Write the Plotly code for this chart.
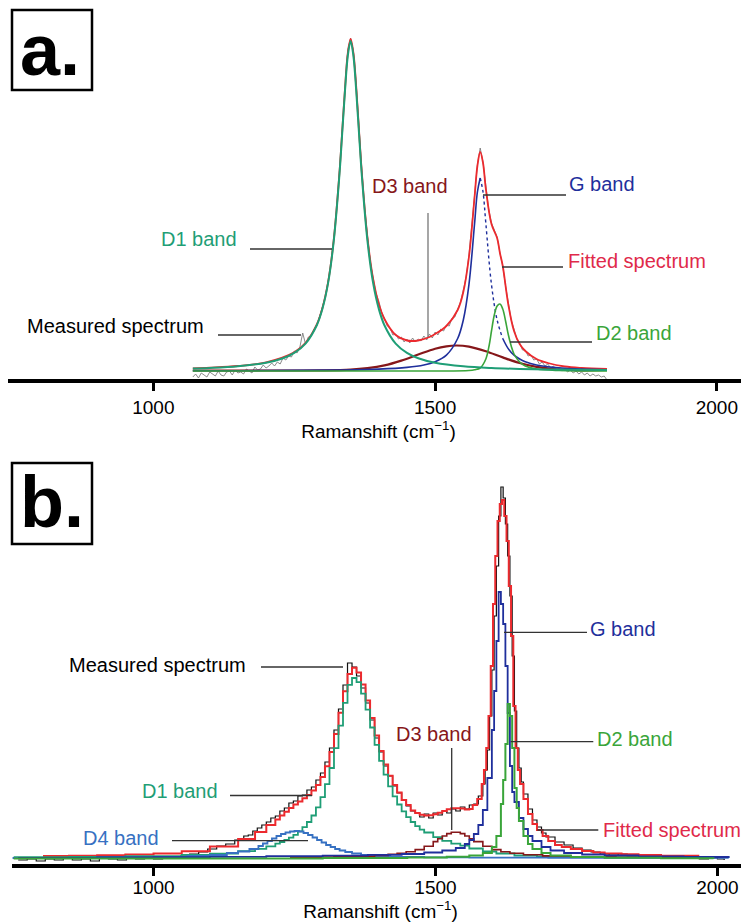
import plotly.graph_objs as go

# the page puts the plot 8 px in from the top-left corner
OFF = 8
W, H = 749 - OFF, 924 - OFF
FONT = "Liberation Sans, Arial, sans-serif"

# ---------------- panel a: smooth band fit ----------------
A_MEAS_X = list(range(1070, 1806, 5))
A_MEAS_Y = [
    4, 7, 3, 8, 6, 4, 9, 7, 5, 10,
    6, 5, 9, 10, 6, 11, 8, 9, 7, 12,
    10, 8, 14, 11, 12, 16, 13, 15, 18, 15,
    19, 17, 23, 21, 25, 24, 30, 28, 34, 48,
    37, 44, 45, 52, 55, 64, 73, 84, 99, 116,
    141, 170, 208, 250, 294, 331, 343, 330, 296, 250,
    210, 172, 144, 119, 103, 88, 80, 69, 63, 55,
    53, 46, 47, 42, 44, 39, 42, 38, 43, 39,
    42, 40, 45, 41, 47, 43, 49, 46, 52, 50,
    56, 55, 63, 64, 72, 79, 91, 104, 126, 153,
    186, 216, 233, 219, 194, 172, 158, 150, 144, 128,
    115, 95, 78, 61, 52, 42, 38, 31, 31, 25,
    26, 21, 22, 17, 19, 15, 17, 13, 15, 11,
    13, 10, 12, 9, 11, 8, 10, 7, 9, 6,
    8, 5, 7, 5, 6, 4, 5, 1,
]

A_FIT_X = [1070, 1100, 1150, 1200, 1250, 1270, 1290, 1300, 1310, 1320, 1330, 1335, 1340, 1345,
           1350, 1355, 1360, 1365, 1370, 1380, 1390, 1400, 1410, 1430, 1450, 1470, 1490, 1500,
           1520, 1540, 1550, 1560, 1570, 1575, 1580, 1585, 1590, 1600, 1610, 1615, 1620, 1630,
           1640, 1650, 1660, 1680, 1700, 1730, 1760, 1805]
A_FIT_Y = [12.6, 13.3, 15.0, 18.7, 28.7, 38.1, 56.6, 73.1, 98.8, 140.8, 207, 249, 292, 328,
           342, 328, 294, 250, 208, 143, 102, 77, 62, 46, 40.5, 40.5, 44, 47,
           55, 71, 89, 124, 184, 215, 229, 218, 192, 157, 143, 128, 115, 76,
           50, 37, 30, 22, 18, 14.5, 13, 12]

A_D1_X = [1070, 1100, 1150, 1200, 1230, 1250, 1270, 1290, 1300, 1310, 1320, 1330, 1335, 1340,
          1345, 1350, 1355, 1360, 1365, 1370, 1380, 1390, 1400, 1410, 1430, 1450, 1470, 1500,
          1550, 1600, 1650, 1700, 1750, 1805]
A_D1_Y = [12.4, 13.0, 14.7, 18.3, 22.8, 28.1, 37.4, 55.8, 72.2, 97.8, 139.6, 205, 247, 290,
          325, 340, 325, 290, 247, 205, 139.6, 97.8, 72.2, 55.8, 37.4, 28.1, 22.8, 18.3,
          14.7, 13.0, 12.1, 11.6, 11.3, 10.9]

A_D3_X = [1070, 1250, 1300, 1350, 1380, 1410, 1440, 1470, 1500, 1520, 1538, 1560, 1590, 1620,
          1650, 1680, 1710, 1750, 1805]
A_D3_Y = [10.5, 10.5, 10.6, 11.3, 12.8, 15.6, 20.4, 26.5, 32.3, 34.7, 35.5, 34.4, 29.8, 23.6,
          18, 14.1, 12, 10.8, 11.0]

A_G_X = [1070, 1150, 1250, 1330, 1400, 1450, 1480, 1500, 1520, 1540, 1550, 1560, 1570, 1575,
         1580, 1585, 1590, 1600, 1610, 1620, 1630, 1640, 1650, 1660, 1680, 1700, 1730, 1760, 1805]
A_G_Y = [10.2, 10.3, 10.6, 11.0, 11.9, 13.6, 16, 19.3, 25.9, 42.5, 61, 96.4, 157.5, 189,
         203, 189, 157.5, 96.4, 61, 42.5, 32.1, 25.9, 22, 19.3, 16, 14.3, 12.7, 11.9, 11.2]

A_D2_X = [1070, 1500, 1560, 1570, 1580, 1590, 1596, 1600, 1605, 1610, 1615, 1620, 1625, 1630,
          1635, 1640, 1650, 1660, 1680, 1720, 1805]
A_D2_Y = [10, 10, 10.5, 11.2, 13, 22, 36, 50, 66, 75, 77, 72, 60, 46,
          35, 27, 19, 15, 12, 10.5, 10]

# ---------------- panel b: stepped band fit ----------------
B_MEAS_X = (list(range(760, 1161, 16)) + list(range(1168, 1585, 8)) + list(range(1588, 1653, 4))
            + list(range(1656, 1697, 8)) + list(range(1712, 2001, 16)) + [2012])
B_MEAS_Y = [
    6, 7, 5, 7, 6, 8, 6, 7, 5, 8, 7, 6, 8, 7, 9, 7, 9, 8, 10, 12, 14, 17, 20, 22, 26, 30,
    31, 35, 38, 41, 44, 48, 50, 55, 58, 63,
    65, 70, 71, 76, 79, 86, 93, 104, 118, 136,
    157, 181, 203, 199, 190, 178, 163, 146, 128, 114,
    100, 90, 80, 73, 66, 60, 55, 53, 49, 52,
    48, 53, 51, 55, 53, 57, 55, 59, 57, 61,
    62, 70, 82,
    96, 116, 150, 196, 250, 300, 350, 379, 368, 342, 310, 270, 210, 155, 118, 98, 84,
    72, 57, 46, 39, 33, 29,
    24, 21, 18, 16, 14, 12, 11, 12, 10, 11, 9, 10, 8, 9, 8, 9, 7, 8, 7,
    6,
]

B_FIT_X = ([804, 850, 900, 950, 1000, 1050, 1100, 1150, 1180, 1200] + list(range(1216, 1561, 8))
           + [1566, 1574, 1582, 1586, 1590, 1594, 1598, 1602, 1606, 1610, 1614, 1618, 1622, 1626,
              1630, 1634, 1638, 1642, 1646, 1650, 1656, 1664, 1672, 1680, 1690, 1700, 1712, 1724,
              1740, 1760, 1780, 1800, 1830, 1860, 1900, 1966])
B_FIT_Y = [10, 10.3, 10.8, 11.5, 12.5, 14.7, 19.5, 27, 34, 41,
           46.6, 50.5, 54.2, 57.9, 61.4, 64.6, 67.7, 71.1, 75.4, 81.1,
           88.9, 99.8, 114, 132, 153.2, 174.8, 191.9, 198.2, 193.5, 181.6,
           165.6, 148.1, 130.6, 115, 101.5, 90.3, 80.9, 73.5, 65.9, 61.1,
           55.5, 53, 51.3, 50.6, 50.8, 51.7, 53.2, 54.9, 56.7, 57.8,
           57.7, 57.5, 56.5, 57,
           61, 67, 82, 96, 118, 150, 200, 262, 310, 345, 362, 366, 350, 325,
           280, 230, 160, 118, 96, 82, 67, 52, 42, 36, 30, 25, 21, 19,
           17, 15, 13.6, 12.6, 11.7, 11, 10.3, 9.6]

B_D1_X = [752, 850, 950, 1050, 1100, 1150, 1180, 1200] + list(range(1216, 1481, 8)) + \
         [1496, 1512, 1528, 1544, 1560, 1584, 1608, 1640, 1680, 1730, 1800, 1900, 1990]
B_D1_Y = [8.8, 9.1, 9.8, 11.1, 12.4, 14.8, 17.2, 19.7,
          22.3, 24, 26, 28.4, 31.2, 34.6, 38.8, 44, 50.5, 58.6,
          68.8, 81.8, 98, 117.8, 140.4, 163.2, 181.1, 188, 183.8, 172.4,
          156.4, 138.5, 121.1, 105.2, 91.3, 79.6, 69.7, 61.5, 54.6, 48.8,
          44, 39.9, 36.4, 33.5,
          28.8, 25.2, 22.4, 20.3, 17.5, 14.5, 12.5, 10.5, 9.5, 9, 8.6, 8.3, 8.2]

B_D4_X = [750, 900, 1000, 1060, 1100, 1130, 1150, 1170, 1186, 1194, 1202, 1210, 1218, 1226,
          1234, 1242, 1250, 1258, 1266, 1274, 1282, 1290, 1298, 1306, 1314, 1322, 1330, 1340,
          1352, 1368, 1390, 1420, 1480, 1560, 1700, 2020]
B_D4_Y = [8, 8.5, 9, 10, 11, 13, 14.5, 17, 20, 22.5, 25, 27.5, 30, 32,
          33.5, 34.5, 35, 34.5, 33, 31, 28.5, 26, 23.5, 21, 19, 17, 15.5, 14,
          12.5, 11, 10, 9.2, 8.6, 8.3, 8.1, 8]

B_D3_X = [1242, 1280, 1320, 1360, 1392, 1416, 1432, 1448, 1464, 1480, 1496, 1504, 1512, 1520,
          1528, 1536, 1544, 1552, 1560, 1568, 1584, 1600, 1616, 1632, 1656, 1690, 1740, 1820,
          1900, 1963]
B_D3_Y = [8.7, 8.9, 9.2, 9.8, 10.6, 11.7, 12.7, 14.2, 16.4, 19.7, 24.4, 27.2, 30, 32.4,
          33.8, 33.8, 32.4, 30, 27.2, 24.4, 19.7, 16.4, 14.2, 12.7, 11.3, 10.1, 9.3, 8.7,
          8.4, 8.3]

B_G_X = [760, 900, 1000, 1100, 1200, 1300, 1380, 1440, 1480, 1512, 1536, 1552, 1560, 1568,
         1576, 1584, 1592, 1600, 1604, 1608, 1612, 1616, 1620, 1624, 1628, 1632, 1636, 1640,
         1648, 1656, 1664, 1672, 1688, 1704, 1728, 1760, 1800, 1860, 1940, 2020]
B_G_Y = [8.2, 8.5, 8.8, 9.2, 9.8, 10.4, 11.2, 12, 13.5, 15.5, 18, 22, 26, 32,
         41, 56, 88, 136, 175, 225, 274, 262, 242, 200, 153, 100, 74, 64,
         48, 37, 30, 25, 19, 15.5, 13, 11.5, 10.5, 9.6, 9, 8.6]

B_D2_X = [752, 1000, 1300, 1450, 1520, 1560, 1584, 1600, 1608, 1616, 1620, 1624, 1628, 1632,
          1636, 1640, 1644, 1648, 1656, 1664, 1672, 1688, 1704, 1740, 1800, 1900, 1993]
B_D2_Y = [7.5, 7.6, 8, 8.5, 9.3, 10.5, 13, 19, 30, 62, 86, 122, 162, 150,
          118, 78, 58, 45, 30, 22, 17, 13, 10.5, 9, 8.2, 7.8, 7.6]

TICKS = [1000, 1500, 2000]

C_MEAS_A = "#7d7d7d"
C_FIT = "#ec2a2e"
C_D1 = "#1f9e76"
C_D3 = "#86171a"
C_G = "#1f2f9c"
C_D2 = "#3aa53a"
C_D4 = "#3771c2"
C_TXT_FIT = "#e02a4a"


def px(x):
    # screen pixel -> paper fraction
    return (x - OFF) / W


def py(y):
    return 1 - (y - OFF) / H


fig = go.Figure()


def add_line(xs, ys, color, width, axis, shape="linear", dash="solid", name=""):
    fig.add_trace(go.Scatter(
        x=xs, y=ys, mode="lines", name=name, showlegend=False,
        line=dict(color=color, width=width, shape=shape, dash=dash),
        xaxis="x" if axis == 1 else "x2", yaxis="y" if axis == 1 else "y2",
        connectgaps=False, hoverinfo="skip",
    ))


# panel a
add_line(A_MEAS_X, A_MEAS_Y, C_MEAS_A, 0.9, 1, name="Measured spectrum")
add_line(A_FIT_X, A_FIT_Y, C_FIT, 1.8, 1, shape="spline", name="Fitted spectrum")
add_line(A_D3_X, A_D3_Y, C_D3, 2.2, 1, shape="spline", name="D3 band")
g_solid = [y if (x <= 1580 or x >= 1620) else None for x, y in zip(A_G_X, A_G_Y)]
g_dot = [y if 1580 <= x <= 1620 else None for x, y in zip(A_G_X, A_G_Y)]
add_line(A_G_X, g_solid, C_G, 1.6, 1, shape="spline", name="G band")
add_line(A_G_X, g_dot, C_G, 1.4, 1, shape="spline", dash="dot", name="G band")
add_line(A_D2_X, A_D2_Y, C_D2, 1.6, 1, shape="spline", name="D2 band")
add_line(A_D1_X, A_D1_Y, C_D1, 2.0, 1, shape="spline", name="D1 band")

# panel b
add_line(B_MEAS_X, B_MEAS_Y, "#111111", 1.2, 2, shape="hv", name="Measured spectrum")
add_line(B_FIT_X, B_FIT_Y, C_FIT, 2.0, 2, shape="hv", name="Fitted spectrum")
add_line(B_D1_X, B_D1_Y, C_D1, 1.8, 2, shape="hv", name="D1 band")
add_line(B_D4_X, B_D4_Y, C_D4, 1.8, 2, shape="hv", name="D4 band")
add_line(B_D3_X, B_D3_Y, C_D3, 1.6, 2, shape="hv", name="D3 band")
add_line(B_G_X, B_G_Y, C_G, 1.8, 2, shape="hv", name="G band")
add_line(B_D2_X, B_D2_Y, C_D2, 2.0, 2, shape="hv", name="D2 band")


def x_axis(domain, rng, anchor, label_shift, title_gap):
    return dict(
        domain=domain, range=rng, anchor=anchor,
        showgrid=False, zeroline=False, showline=True, linecolor="black", linewidth=4,
        ticks="outside", ticklen=8, tickwidth=2.5, tickcolor="black",
        tickvals=TICKS, ticktext=[str(t) for t in TICKS], ticklabelstandoff=label_shift,
        tickfont=dict(family=FONT, size=19, color="black"),
        title=dict(text="Ramanshift (cm<sup>−1</sup>)",
                   font=dict(family=FONT, size=19, color="black"), standoff=title_gap),
    )


fig.update_layout(
    width=W, height=H, margin=dict(l=0, r=0, t=0, b=0),
    paper_bgcolor="white", plot_bgcolor="white",
    xaxis=x_axis([0, 1], [742, 2057], "y", 0, 9),
    yaxis=dict(domain=[py(379), 1], range=[2, 373], visible=False),
    xaxis2=x_axis([px(12), 1], [749, 2056], "y2", -5, 7),
    yaxis2=dict(domain=[py(864), py(470)], range=[2, 396], visible=False),
)

# label texts and their leader lines (screen pixel positions)
labels = [
    ("D1 band", 199, 239, C_D1),
    ("Measured spectrum", 116, 326, "black"),
    ("D3 band", 410, 186, C_D3),
    ("G band", 602, 184, C_G),
    ("Fitted spectrum", 637, 261, C_TXT_FIT),
    ("D2 band", 634, 333, C_D2),
    ("Measured spectrum", 157, 665, "black"),
    ("D1 band", 180, 791, C_D1),
    ("D4 band", 121, 838, C_D4),
    ("D3 band", 434, 734, C_D3),
    ("G band", 623, 629, C_G),
    ("D2 band", 635, 739, C_D2),
    ("Fitted spectrum", 672, 830, C_TXT_FIT),
]
for text, x, y, color in labels:
    fig.add_annotation(x=px(x), y=py(y), xref="paper", yref="paper", text=text, showarrow=False,
                       xanchor="center", yanchor="middle",
                       font=dict(family=FONT, size=20, color=color))

leaders = [
    (250, 249, 332, 249, "#333333"),
    (218, 335, 301, 335, "#333333"),
    (428, 213, 428, 337, "#777777"),
    (483, 195, 566, 195, "#333333"),
    (502, 267, 563, 267, "#333333"),
    (510, 342, 592, 342, "#333333"),
    (261, 667, 343, 667, "#333333"),
    (230, 795.5, 312, 795.5, "#333333"),
    (172, 840.7, 308, 840.7, "#333333"),
    (451.7, 748, 451.7, 830, "#333333"),
    (504, 632.3, 587, 632.3, "#333333"),
    (510.7, 741.7, 593.3, 741.7, "#333333"),
    (537.3, 830, 598.3, 830, "#333333"),
]
for x0, y0, x1, y1, color in leaders:
    fig.add_shape(type="line", xref="paper", yref="paper", x0=px(x0), y0=py(y0), x1=px(x1), y1=py(y1),
                  line=dict(color=color, width=1.3))

# panel letters in boxes
for letter, x0, y0, x1, y1, cx, cy in [("a.", 12, 10, 92, 90, 50, 50), ("b.", 12, 463, 92, 544, 52, 502)]:
    fig.add_shape(type="rect", xref="paper", yref="paper", x0=px(x0), y0=py(y0), x1=px(x1), y1=py(y1),
                  line=dict(color="black", width=2.5), fillcolor="white")
    fig.add_annotation(x=px(cx), y=py(cy), xref="paper", yref="paper", text="<b>" + letter + "</b>",
                       showarrow=False, xanchor="center", yanchor="middle",
                       font=dict(family=FONT, size=72, color="black"))

fig.write_html("out.html")
